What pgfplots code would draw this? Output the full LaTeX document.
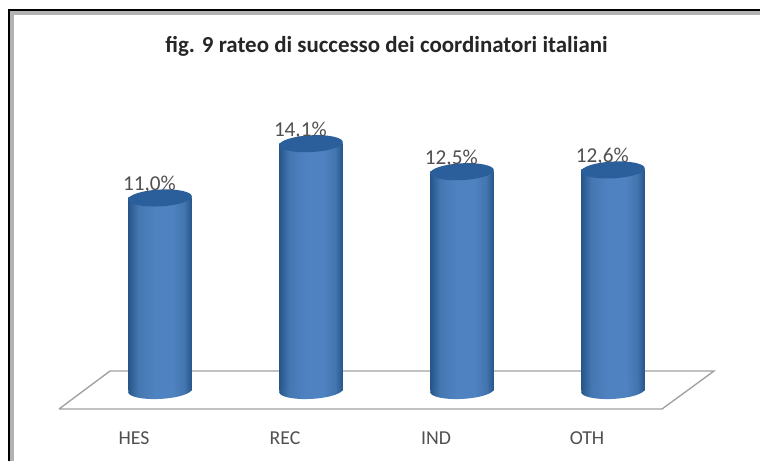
\documentclass[border=0pt]{standalone}
\usepackage{pgfplots}
\pgfplotsset{compat=1.18}
\usepackage{fontspec}
\setmainfont{Carlito}
\definecolor{barmid}{HTML}{4F82C0}
\definecolor{baredge}{HTML}{265689}
\definecolor{bartop}{HTML}{2A5F9C}
\definecolor{txt}{HTML}{505050}
\definecolor{floorc}{HTML}{A0A0A0}
\pgfdeclarehorizontalshading{cyl}{100bp}{
  color(0bp)=(baredge);
  color(25bp)=(baredge);
  color(33bp)=(barmid!75!baredge);
  color(46bp)=(barmid);
  color(60bp)=(barmid);
  color(69bp)=(barmid!70!baredge);
  color(75bp)=(baredge);
  color(100bp)=(baredge)}
\pgfdeclareplotmark{cyltop}{%
  \pgftransformrotate{3}%
  \pgfpathellipse{\pgfpointorigin}{\pgfqpoint{23.9pt}{0pt}}{\pgfqpoint{0pt}{6.3pt}}%
  \pgfusepath{fill}}
\pgfdeclareplotmark{cylbottom}{%
  \pgftransformrotate{3}%
  \pgfpathellipse{\pgfpointorigin}{\pgfqpoint{23.9pt}{0pt}}{\pgfqpoint{0pt}{6.3pt}}%
  \pgfshadepath{cyl}{0}\pgfusepath{discard}}
\pgfplotsset{cylbar/.style={ybar,bar width=47.5pt,bar shift=0pt,draw=none,shade,shading=cyl,forget plot}}
\begin{document}
\begin{tikzpicture}[x=0.75pt,y=0.75pt]
\path[use as bounding box] (0,0) rectangle (760,461);
\fill[white] (0,0) rectangle (760,461);
\begin{axis}[
  at={(59*0.75pt,52*0.75pt)},anchor=south west,
  scale only axis,
  width=655*0.75pt,height=339*0.75pt,
  xmin=-0.669,xmax=3.669,ymin=-1.057,ymax=18.31,
  axis line style={draw=none},
  ytick=\empty,
  xtick={0,1,2,3},
  xticklabels={HES,REC,IND,OTH},
  tick style={draw=none},
  xticklabel style={font=\fontsize{14.8}{16}\selectfont,text=txt,xshift=-19.5pt,yshift=-22pt,anchor=center},
  clip=false,
  title={\bfseries fig. 9 rateo di successo dei coordinatori italiani},
  title style={font=\fontsize{17.2}{19}\selectfont,text=black!85,at={(0.5,1)},anchor=center,yshift=11.5pt},
]
% floor
\addplot[floorc,line width=1pt,forget plot] coordinates {(-0.669,-1.057) (-0.331,1.114) (3.669,1.114) (3.325,-1.057) (-0.669,-1.057)};
% bottom caps
\addplot[only marks,mark=cylbottom,forget plot] coordinates {(0,0) (1,0) (2,0) (3,0)};
% bodies
\addplot[cylbar] coordinates {(0,11.0)};
\addplot[cylbar] coordinates {(1,14.1)};
\addplot[cylbar] coordinates {(2,12.5)};
\addplot[cylbar] coordinates {(3,12.6)};
% top caps and labels
\addplot[only marks,mark=cyltop,color=bartop,
  nodes near coords={\pgfmathprintnumber[fixed,fixed zerofill,precision=1,use comma,assume math mode=true]{\pgfplotspointmeta}\%},
  every node near coord/.append style={font=\fontsize{15.9}{17}\selectfont,text=txt,anchor=center,xshift=-8pt,yshift=10pt},
  point meta=explicit] coordinates {(0,11.0) [11.0] (1,14.1) [14.1] (2,12.5) [12.5] (3,12.6) [12.6]};
\end{axis}
% chart frame
\draw[black!30,line width=3pt] (12,0) -- (12,448) -- (760,448);
\draw[black,line width=1.6pt] (9,0) -- (9,451) -- (760,451);
\end{tikzpicture}
\end{document}
